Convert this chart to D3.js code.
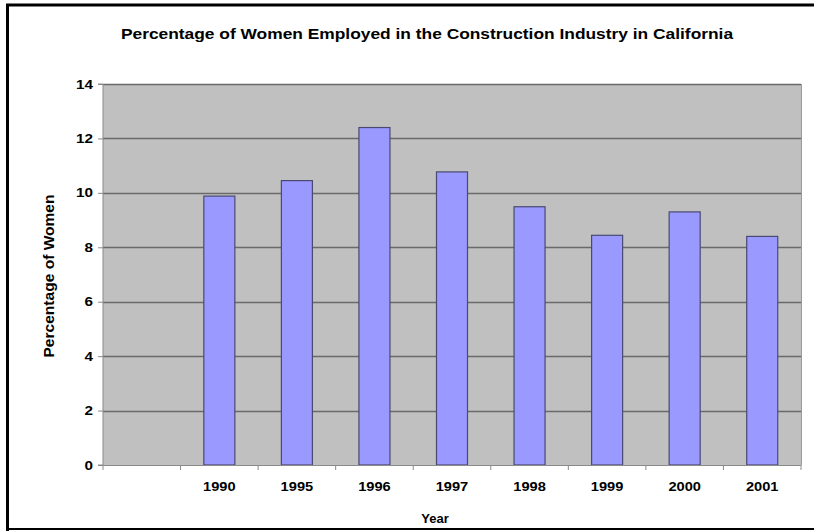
<!DOCTYPE html>
<html><head><meta charset="utf-8">
<script src="https://cdn.jsdelivr.net/npm/d3@7"></script>
<style>
html,body{margin:0;padding:0;background:#fff;}
svg{display:block;font-family:"Liberation Sans",Arial,sans-serif;}
</style></head>
<body>
<svg id="chart" width="814" height="531"></svg>
<script>
const title = "Percentage of Women Employed in the Construction Industry in California";
const categories = ["", "1990", "1995", "1996", "1997", "1998", "1999", "2000", "2001"];
const values = [null, 9.88, 10.45, 12.4, 10.77, 9.49, 8.44, 9.3, 8.4];
const yTicks = [0, 2, 4, 6, 8, 10, 12, 14];
const xTitle = "Year";
const yTitle = "Percentage of Women";

const svg = d3.select("#chart");
const L = 103, R = 801, T = 84, B = 465;

function stretch(sel, f) {
  sel.each(function() {
    const w = this.getComputedTextLength();
    if (w > 0) d3.select(this).attr("textLength", w * f).attr("lengthAdjust", "spacingAndGlyphs");
  });
}

// outer frame
svg.append("path").attr("d", "M7.5,531 L7.5,5 L814,5").attr("fill","none").attr("stroke","#000").attr("stroke-width",3);
svg.append("line").attr("x1",7).attr("x2",814).attr("y1",529).attr("y2",529).attr("stroke","#000").attr("stroke-width",2);

const x = d3.scaleBand().domain(categories.map((d,i)=>i)).range([L, R]).paddingInner(0).paddingOuter(0);
const y = d3.scaleLinear().domain([0, 14]).range([B, T]);

svg.append("rect").attr("x",L).attr("y",T).attr("width",R-L).attr("height",B-T).attr("fill","#c0c0c0");

// gridlines
svg.append("g").selectAll("line").data(yTicks.filter(d=>d>0)).join("line")
  .attr("x1",L).attr("x2",R).attr("y1",d=>Math.round(y(d))+0.5).attr("y2",d=>Math.round(y(d))+0.5)
  .attr("stroke","#6a6a6a").attr("stroke-width",1.3);

// right border of plot area
svg.append("line").attr("x1",R+0.5).attr("x2",R+0.5).attr("y1",T).attr("y2",B).attr("stroke","#9a9a9a").attr("stroke-width",1);

// bars
const bw = x.bandwidth()*0.4;
svg.append("g").selectAll("rect").data(values.map((v,i)=>({v,i})).filter(d=>d.v!=null)).join("rect")
  .attr("x", d=>x(d.i)+x.bandwidth()/2-bw/2)
  .attr("y", d=>y(d.v))
  .attr("width", bw)
  .attr("height", d=>B-y(d.v))
  .attr("fill","#9999ff").attr("stroke","#4a4a70").attr("stroke-width",1.2);

// y axis
const yAxis = d3.axisLeft(y).tickValues(yTicks).tickSize(5).tickPadding(5).tickFormat(d3.format("d"));
const gy = svg.append("g").attr("transform",`translate(${L},0)`).call(yAxis);
gy.select(".domain").attr("stroke","#8a8a8a").attr("d", `M-5,${T}H0V${B}H-5`);
gy.selectAll(".tick line").attr("stroke","#8a8a8a");
gy.selectAll(".tick text").attr("font-size",12.5).attr("font-weight","bold").attr("fill","#000")
  .attr("font-family","Liberation Sans, Arial, sans-serif");
stretch(gy.selectAll(".tick text"), 1.22);

// x axis ticks at band boundaries
const xAxisG = svg.append("g");
xAxisG.append("line").attr("x1",L).attr("x2",R).attr("y1",B+0.5).attr("y2",B+0.5).attr("stroke","#8a8a8a");
const boundaries = categories.map((d,i)=>x(i)).concat([R]);
xAxisG.selectAll("line.tk").data(boundaries).join("line").attr("class","tk")
  .attr("x1",d=>d).attr("x2",d=>d).attr("y1",B).attr("y2",B+5).attr("stroke","#8a8a8a");
const xl = xAxisG.selectAll("text").data(categories).join("text")
  .attr("x",(d,i)=>x(i)+x.bandwidth()/2).attr("y",491)
  .attr("text-anchor","middle").attr("font-size",12.5).attr("font-weight","bold").text(d=>d);
stretch(xl, 1.17);

// titles
const tt = svg.append("text").attr("x",427).attr("y",39).attr("text-anchor","middle")
  .attr("font-size",15.5).attr("font-weight","bold").text(title);
stretch(tt, 1.12);
const xt = svg.append("text").attr("x",435).attr("y",523).attr("text-anchor","middle")
  .attr("font-size",13).attr("font-weight","bold").text(xTitle);
const yt = svg.append("text").attr("transform","translate(54,276) rotate(-90)").attr("text-anchor","middle")
  .attr("font-size",14).attr("font-weight","bold").text(yTitle);
yt.attr("textLength",163).attr("lengthAdjust","spacingAndGlyphs");
</script>
</body></html>
